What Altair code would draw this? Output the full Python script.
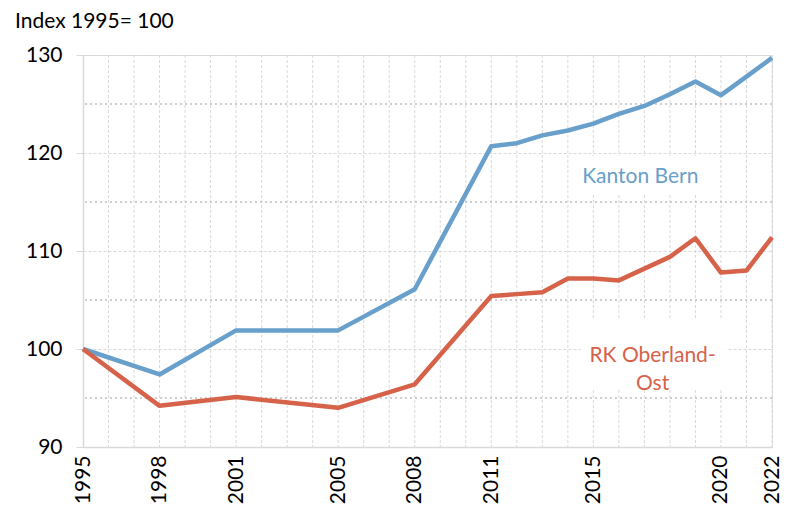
import altair as alt
import pandas as pd

# ---- data ----
years = [1995, 1998, 2001, 2005, 2008, 2011, 2012, 2013, 2014, 2015,
         2016, 2017, 2018, 2019, 2020, 2021, 2022]
kanton_bern = [100.0, 97.4, 101.9, 101.9, 106.1, 120.7, 121.0, 121.8, 122.3, 123.0,
               124.0, 124.8, 126.0, 127.3, 125.9, 127.8, 129.7]
rk_oberland_ost = [100.0, 94.2, 95.1, 94.0, 96.4, 105.4, 105.6, 105.8, 107.2, 107.2,
                   107.0, 108.2, 109.4, 111.3, 107.8, 108.0, 111.4]

series_names = ["Kanton Bern", "RK Oberland-Ost"]
series_colors = ["#68a0cb", "#d6624a"]

label_years = [1995, 1998, 2001, 2005, 2008, 2011, 2015, 2020, 2022]
grid_years = list(range(1996, 2023))
y_ticks = [90, 100, 110, 120, 130]
minor_grid = [95, 105, 115, 125]

title_text = "Index 1995= 100"
ann_text = ["Kanton Bern", "RK Oberland-\nOst"]
ann_x = [2016.84, 2017.32]
ann_y = [117.56, 99.24]
box_x1 = [2014.4, 2014.5]
box_x2 = [2019.5, 2020.2]
box_y1 = [115.8, 96.0]
box_y2 = [119.7, 103.0]

FONT = "Lato"

rows = []
for name, vals in zip(series_names, [kanton_bern, rk_oberland_ost]):
    for yr, v in zip(years, vals):
        rows.append({"year": yr, "value": v, "series": name})
df = pd.DataFrame(rows)

xscale = alt.Scale(domain=[1995, 2022], nice=False, zero=False)
yscale = alt.Scale(domain=[90, 130], nice=False, zero=False)

x_axis = alt.Axis(
    values=label_years, format="d", labelAngle=270, labelAlign="right", labelBaseline="middle",
    labelFontSize=21, labelColor="black", labelPadding=8, labelFlush=False,
    labelOverlap=False, labelBound=False, ticks=False, domainColor="#d9d9d9", domainWidth=1.5,
    grid=False, title=None, labelFont=FONT,
)
y_axis = alt.Axis(
    values=y_ticks, labelFontSize=21, labelColor="black", labelPadding=14,
    tickSize=7, tickColor="#d9d9d9", domainColor="#d9d9d9", domainWidth=1.5,
    grid=True, gridColor="#d9d9d9", gridDash=[3, 2], title=None, labelFont=FONT,
)

vgrid = alt.Chart(pd.DataFrame({"g": grid_years})).mark_rule(
    color="#d9d9d9", strokeDash=[3, 2], strokeWidth=1
).encode(x=alt.X("g:Q", scale=xscale, axis=x_axis))

minor = alt.Chart(pd.DataFrame({"v": minor_grid})).mark_rule(
    color="#bfbfbf", strokeDash=[2, 3], strokeWidth=1.3
).encode(y=alt.Y("v:Q", scale=yscale, axis=y_axis))

boxes = alt.Chart(pd.DataFrame({"x1": box_x1, "x2": box_x2, "y1": box_y1, "y2": box_y2})).mark_rect(
    color="white"
).encode(
    x=alt.X("x1:Q", scale=xscale), x2="x2:Q",
    y=alt.Y("y1:Q", scale=yscale), y2="y2:Q",
)

lines = alt.Chart(df).mark_line(strokeWidth=4.5, strokeJoin="round").encode(
    x=alt.X("year:Q", scale=xscale),
    y=alt.Y("value:Q", scale=yscale),
    color=alt.Color("series:N", scale=alt.Scale(domain=series_names, range=series_colors), legend=None),
)

ann = alt.Chart(pd.DataFrame({"t": ann_text, "x": ann_x, "y": ann_y, "s": series_names})).mark_text(
    fontSize=21, font=FONT, align="center", baseline="middle", lineBreak="\n", lineHeight=28
).encode(
    x=alt.X("x:Q", scale=xscale), y=alt.Y("y:Q", scale=yscale), text="t:N",
    color=alt.Color("s:N", scale=alt.Scale(domain=series_names, range=series_colors), legend=None),
)

title = alt.Chart(pd.DataFrame({"t": [title_text]})).mark_text(
    fontSize=21, font=FONT, align="left", baseline="alphabetic", color="black"
).encode(text="t:N", x=alt.value(-68), y=alt.value(-27))

chart = alt.layer(vgrid, minor, boxes, lines, ann, title).properties(
    width=689, height=392,
    autosize=alt.AutoSizeParams(type="none"),
    padding={"left": 75, "top": 47, "right": 10, "bottom": 60},
).configure_view(stroke=None).configure(font=FONT)

chart.save("out.html", embed_options={"renderer": "svg", "actions": False})
